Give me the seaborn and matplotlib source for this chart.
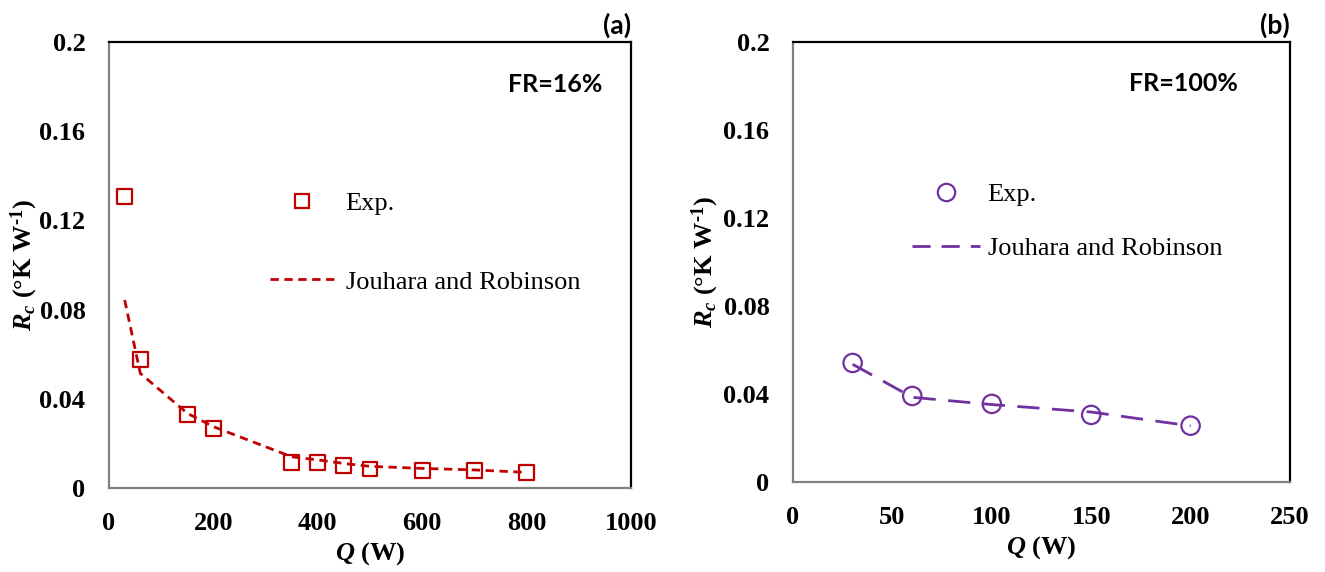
import matplotlib
matplotlib.use("Agg")
import matplotlib.pyplot as plt
from matplotlib.lines import Line2D
import seaborn as sns
import pandas as pd

# FR = 16 %
q_a = [30, 60, 150, 200, 350, 400, 450, 500, 600, 700, 800]
rc_exp_a = [0.1306, 0.0577, 0.0331, 0.0268, 0.0116, 0.0113, 0.0099, 0.0085, 0.0078, 0.0078, 0.0069]
rc_model_a = [0.0843, 0.0514, 0.0335, 0.0275, 0.0140, 0.0126, 0.0110, 0.0097, 0.0088, 0.0081, 0.0070]

# FR = 100 %
q_b = [30, 60, 100, 150, 200]
rc_exp_b = [0.0541, 0.0391, 0.0355, 0.0305, 0.0256]
rc_model_b = [0.0535, 0.0385, 0.0352, 0.0318, 0.0255]

y_ticks = [0, 0.04, 0.08, 0.12, 0.16, 0.2]
y_tick_labels = ["0", "0.04", "0.08", "0.12", "0.16", "0.2"]
x_ticks_a = [0, 200, 400, 600, 800, 1000]
x_ticks_b = [0, 50, 100, 150, 200, 250]

RED = "#C00000"
PURPLE = "#7030A0"
GREY = "#808080"

sns.set_theme(style="white")
plt.rcParams["font.family"] = ["Liberation Serif", "DejaVu Serif"]
plt.rcParams["text.color"] = "black"
plt.rcParams["axes.labelcolor"] = "black"
plt.rcParams["mathtext.fontset"] = "custom"
plt.rcParams["mathtext.rm"] = "Liberation Serif:bold"
plt.rcParams["mathtext.it"] = "Liberation Serif:italic:bold"
plt.rcParams["mathtext.bf"] = "Liberation Serif:bold"

fig = plt.figure(figsize=(13.25, 5.72), dpi=100)
ax_a = fig.add_axes([109 / 1325, 84 / 572, 522 / 1325, 446 / 572])
ax_b = fig.add_axes([793 / 1325, 90 / 572, 497 / 1325, 440 / 572])

df_a = pd.DataFrame({"Q": q_a, "exp": rc_exp_a, "model": rc_model_a})
df_b = pd.DataFrame({"Q": q_b, "exp": rc_exp_b, "model": rc_model_b})

dash_a = (0, (3.0, 2.0))
dash_b = (0, (8.0, 4.5))

sns.lineplot(data=df_a, x="Q", y="model", ax=ax_a, color=RED, lw=2.0,
             linestyle=dash_a, legend=False)
sns.scatterplot(data=df_a, x="Q", y="exp", ax=ax_a, marker="s", s=115,
                facecolor="none", edgecolor=RED, linewidth=1.6, legend=False, zorder=3)

sns.lineplot(data=df_b, x="Q", y="model", ax=ax_b, color=PURPLE, lw=2.0,
             linestyle=dash_b, legend=False)
sns.scatterplot(data=df_b, x="Q", y="exp", ax=ax_b, marker="o", s=175,
                facecolor="none", edgecolor=PURPLE, linewidth=1.6, legend=False, zorder=3)

for ax, xt, xmax, ylab_x in [(ax_a, x_ticks_a, 1000, -0.132), (ax_b, x_ticks_b, 250, -0.145)]:
    ax.set_xlim(0, xmax)
    ax.set_ylim(0, 0.2)
    ax.set_xticks(xt)
    ax.set_xticklabels([str(v) for v in xt])
    ax.set_yticks(y_ticks)
    ax.set_yticklabels(y_tick_labels)
    for lab in ax.get_xticklabels() + ax.get_yticklabels():
        lab.set_fontweight("bold")
        lab.set_fontsize(19)
    ax.tick_params(axis="both", direction="in", length=6, width=1.2, color=GREY,
                   labelcolor="black")
    ax.tick_params(axis="y", pad=17)
    ax.tick_params(axis="x", pad=17)
    for side in ["left", "bottom"]:
        ax.spines[side].set_color(GREY)
        ax.spines[side].set_linewidth(1.6)
    for side in ["top", "right"]:
        ax.spines[side].set_color("black")
        ax.spines[side].set_linewidth(1.6)
    ax.set_xlabel(r"$Q$ (W)", fontsize=19, fontweight="bold", labelpad=4)
    ax.set_ylabel(r"$R_c$ (°K W$^{\text{-1}}$)", fontsize=19, fontweight="bold")
    ax.yaxis.set_label_coords(ylab_x, 0.5)
    ax.grid(False)

# Panel annotations
ax_a.text(1.0, 1.01, "(a)", transform=ax_a.transAxes, ha="right", va="bottom",
          fontsize=19, fontweight="bold", family="Lato")
ax_b.text(1.0, 1.01, "(b)", transform=ax_b.transAxes, ha="right", va="bottom",
          fontsize=19, fontweight="bold", family="Lato")
ax_a.text(0.945, 0.905, "FR=16%", transform=ax_a.transAxes, ha="right", va="center",
          fontsize=18, fontweight="bold", family="Lato")
ax_b.text(0.895, 0.905, "FR=100%", transform=ax_b.transAxes, ha="right", va="center",
          fontsize=18, fontweight="bold", family="Lato")

# Legends
h_a = [Line2D([], [], marker="s", ls="none", ms=10.5, mfc="none", mec=RED, mew=1.6),
       Line2D([], [], color=RED, lw=2.0, ls=dash_a)]
ax_a.legend(h_a, ["Exp.", "Jouhara and Robinson"], loc="upper left",
            bbox_to_anchor=(0.309, 0.665), frameon=False, fontsize=19,
            handlelength=2.4, handletextpad=0.45, labelspacing=2.09, borderpad=0,
            borderaxespad=0, labelcolor="black")
h_b = [Line2D([], [], marker="o", ls="none", ms=12.5, mfc="none", mec=PURPLE, mew=1.6),
       Line2D([], [], color=PURPLE, lw=2.0, ls=(0, (6.5, 4.0)))]
ax_b.legend(h_b, ["Exp.", "Jouhara and Robinson"], loc="upper left",
            bbox_to_anchor=(0.239, 0.68), frameon=False, fontsize=19,
            handlelength=2.6, handletextpad=0.27, labelspacing=1.14, borderpad=0,
            borderaxespad=0, labelcolor="black")

fig.savefig("out.png", dpi=100)
